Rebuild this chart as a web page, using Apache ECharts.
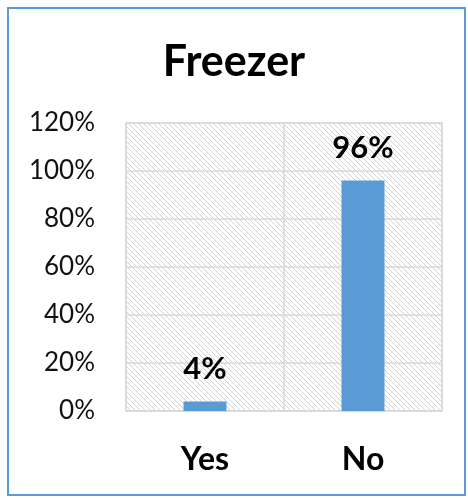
<!DOCTYPE html>
<html><head><meta charset="utf-8">
<script src="https://cdn.jsdelivr.net/npm/echarts@6/dist/echarts.min.js"></script>
<style>html,body{margin:0;padding:0;background:#fff}#c{width:468px;height:498px}</style>
</head><body><div id="c"></div>
<script>
var categories = ['Yes', 'No'];
var values = [4, 96];
var yTicks = [0, 20, 40, 60, 80, 100, 120];

var pc = document.createElement('canvas');
pc.width = 5; pc.height = 5;
var ctx = pc.getContext('2d');
ctx.fillStyle = '#ffffff'; ctx.fillRect(0,0,5,5);
ctx.fillStyle = '#d2d2d2';
for (var i = 0; i < 5; i++) { ctx.fillRect(i, i, 1, 1); }

var font = 'Lato, "Open Sans", sans-serif';
var chart = echarts.init(document.getElementById('c'), null, {renderer:'canvas'});
chart.setOption({
  animation: false,
  backgroundColor: '#fff',
  title: { text: 'Freezer', left: 'center', top: 36, textStyle: { fontFamily: font, fontWeight: 'bold', fontSize: 43, color: '#000' } },
  grid: { left: 126, right: 26, top: 123, bottom: 87, show: true, backgroundColor: { image: pc, repeat: 'repeat' }, borderColor: '#d9d9d9', borderWidth: 1.5 },
  xAxis: { type: 'category', data: categories,
    axisLine: { show: true, lineStyle: { color: '#d9d9d9', width: 1.5 } }, axisTick: { show: false },
    splitLine: { show: true, lineStyle: { color: '#d9d9d9', width: 1.5 } },
    axisLabel: { fontFamily: font, fontWeight: 'bold', fontSize: 32, color: '#000', margin: 33 } },
  yAxis: { type: 'value', min: yTicks[0], max: yTicks[yTicks.length-1], interval: 20,
    axisLine: { show: false }, axisTick: { show: false },
    splitLine: { lineStyle: { color: '#d9d9d9', width: 1.5 } },
    axisLabel: { fontFamily: font, fontSize: 26, color: '#111', margin: 31, formatter: '{value}%' } },
  series: [{ type: 'bar', data: values, barWidth: 43, itemStyle: { color: '#5b9bd5' },
    label: { show: true, position: 'top', distance: 17, formatter: '{c}%', fontFamily: font, fontWeight: 'bold', fontSize: 31, color: '#000' } }],
  graphic: [{ type: 'rect', shape: { x: 8, y: 8, width: 457, height: 487 }, style: { fill: 'none', stroke: '#5b9bd5', lineWidth: 2 } }]
});
</script></body></html>
